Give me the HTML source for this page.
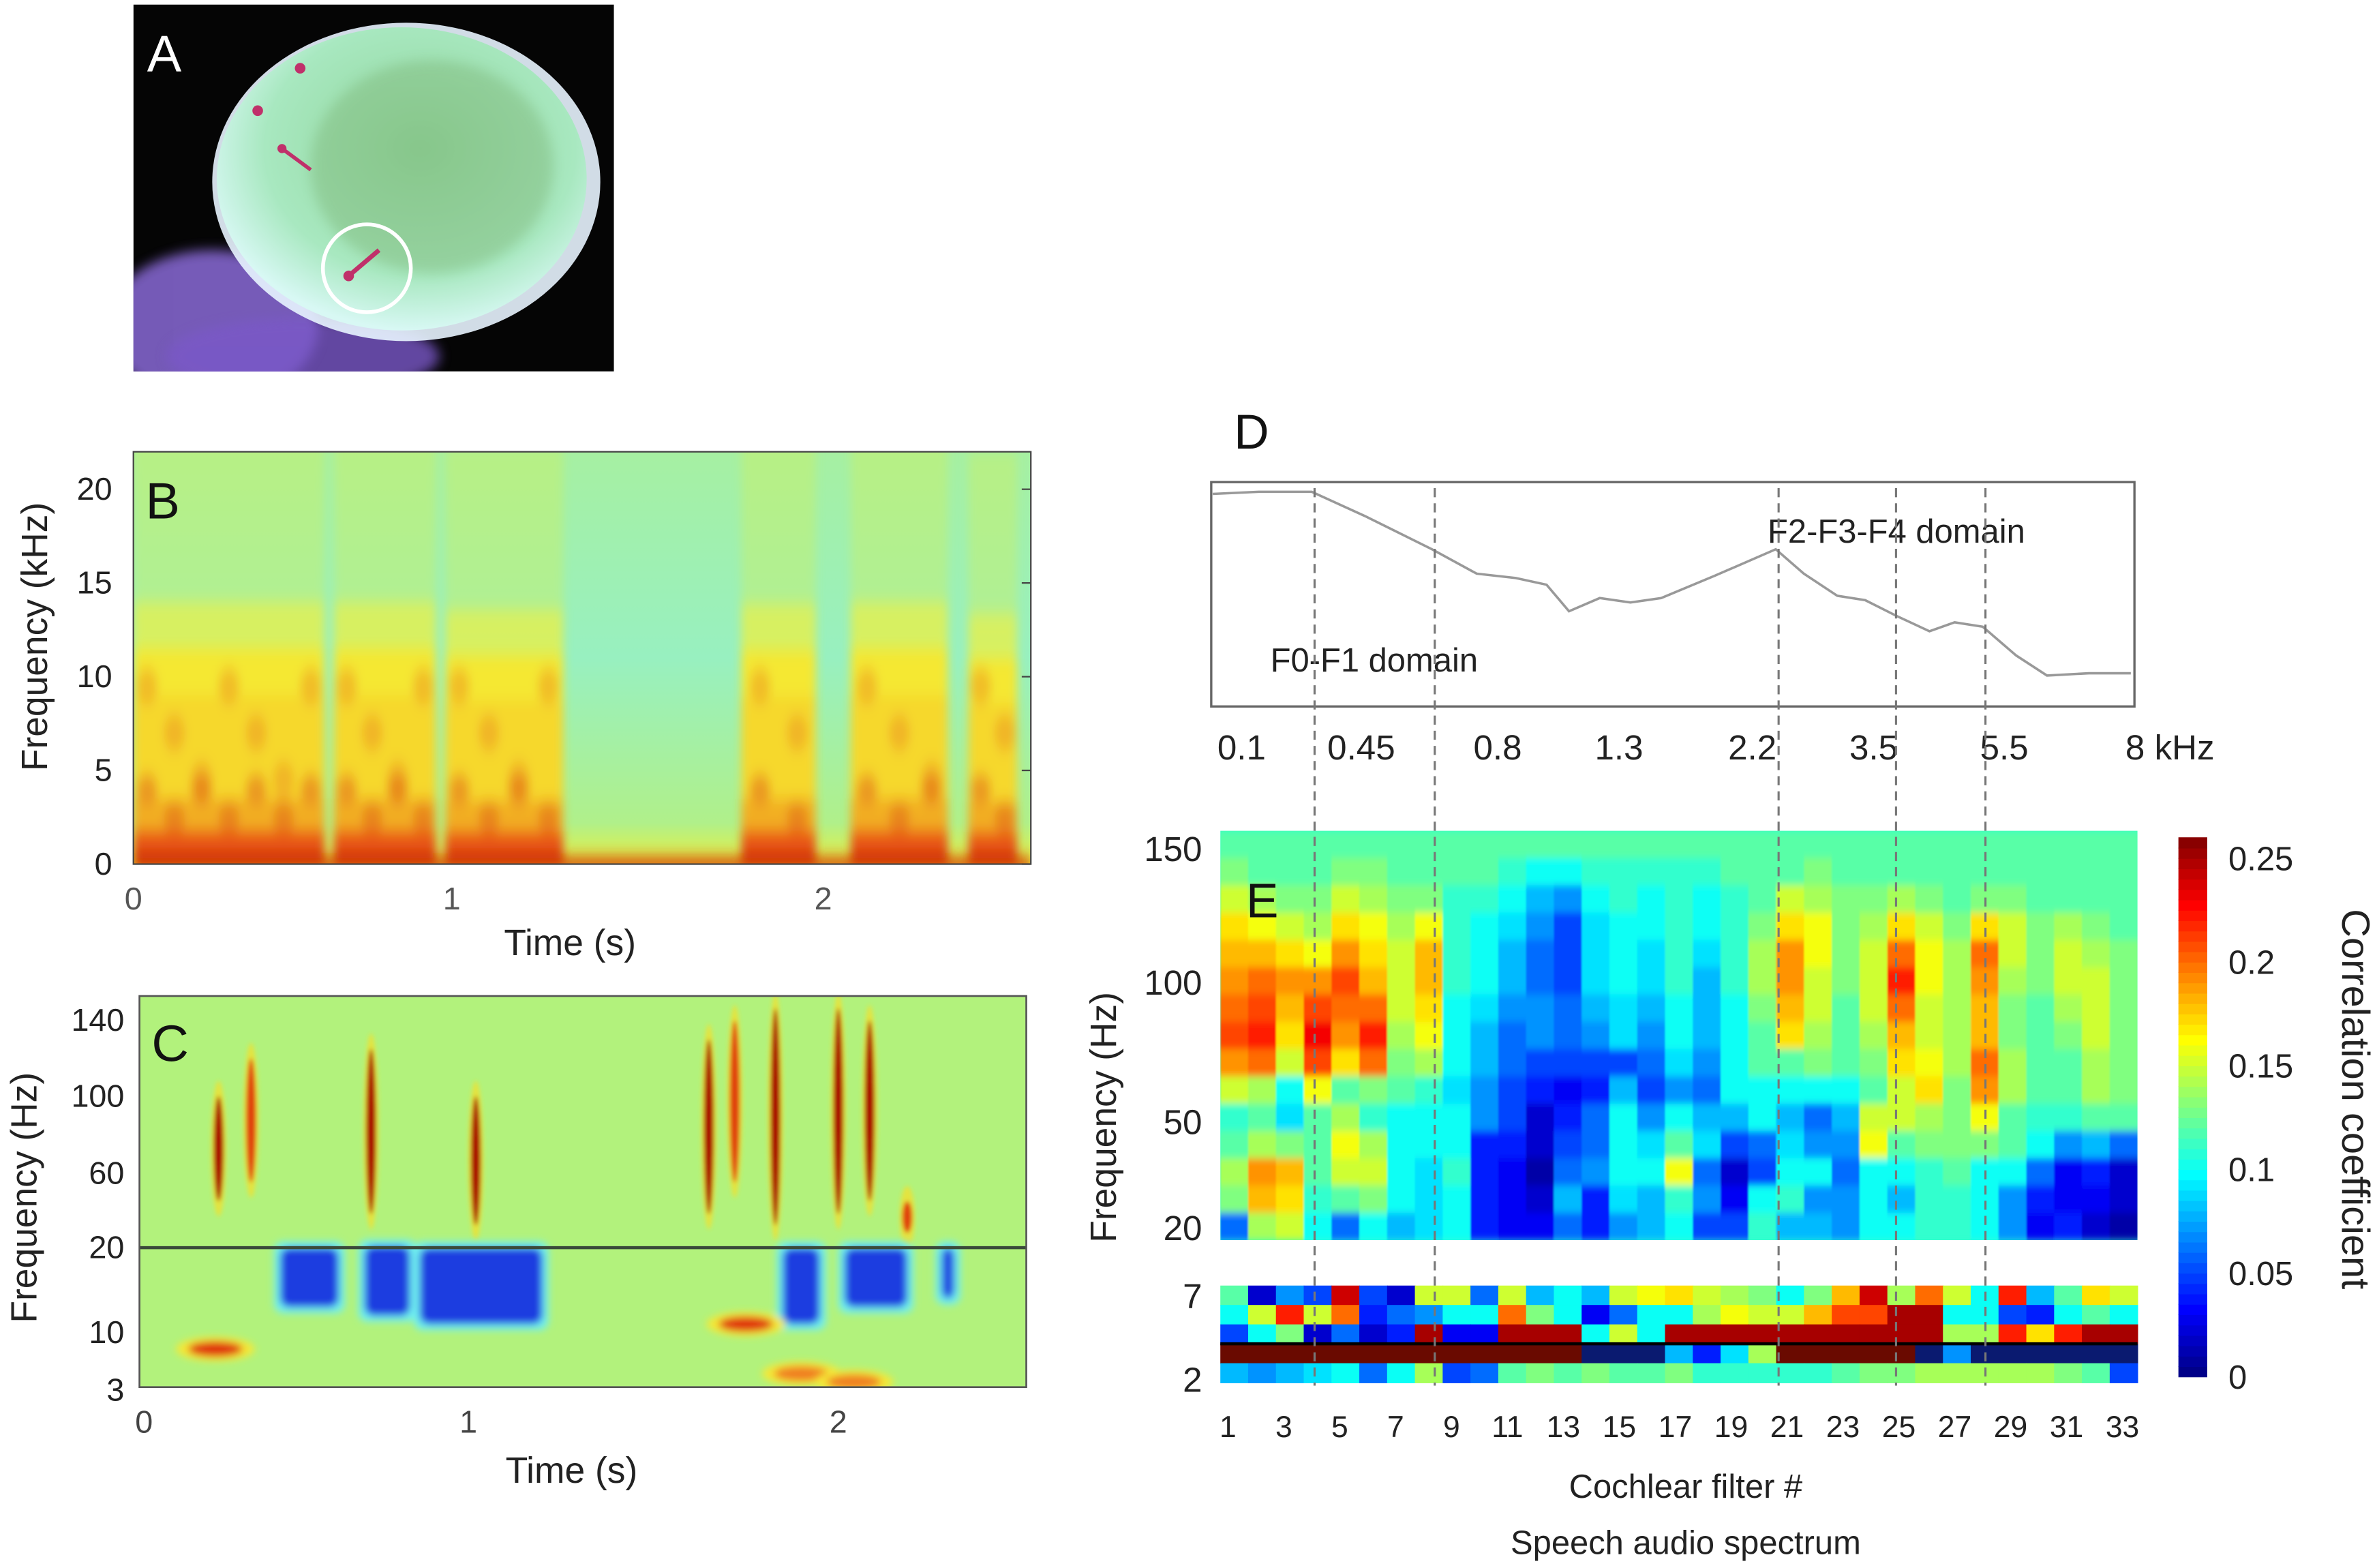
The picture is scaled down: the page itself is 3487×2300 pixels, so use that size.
<!DOCTYPE html>
<html><head><meta charset="utf-8"><style>
html,body{margin:0;padding:0;background:#fff;}
svg{display:block;font-family:"Liberation Sans",sans-serif;}
</style></head><body>
<svg id="fig" width="3487" height="2300" viewBox="0 0 1568 1034.3" preserveAspectRatio="none" xmlns="http://www.w3.org/2000/svg">
<defs>
<filter id="blur2" x="-20%" y="-20%" width="140%" height="140%"><feGaussianBlur stdDeviation="2.5"/></filter>
<filter id="blurB" x="-20%" y="-20%" width="140%" height="140%"><feGaussianBlur stdDeviation="3 5"/></filter>
<filter id="blur1" x="-50%" y="-20%" width="200%" height="140%"><feGaussianBlur stdDeviation="1.4"/></filter>
<filter id="blurE" x="0" y="0" width="100%" height="100%"><feGaussianBlur stdDeviation="0.6 2.5"/></filter>
<filter id="blur4"><feGaussianBlur stdDeviation="4"/></filter>
<linearGradient id="bgB" x1="0" y1="0" x2="0" y2="1"><stop offset="0" stop-color="#a6f0a2"/><stop offset="0.5" stop-color="#98f0c0"/><stop offset="0.9" stop-color="#b0f08a"/><stop offset="1" stop-color="#e8f040"/></linearGradient>
<radialGradient id="headGrad" cx="0.55" cy="0.4" r="0.6"><stop offset="0" stop-color="#8fd49a"/><stop offset="0.7" stop-color="#a8e8c0"/><stop offset="1" stop-color="#d8f8f4"/></radialGradient>
<clipPath id="clipA"><rect x="88" y="3" width="317" height="242"/></clipPath>
<clipPath id="clipB"><rect x="88" y="298" width="592" height="272"/></clipPath>
<clipPath id="clipC"><rect x="92" y="657" width="585" height="258"/></clipPath>
<clipPath id="clipEH"><rect x="805" y="548" width="605" height="270"/></clipPath>
</defs>

<g clip-path="url(#clipA)">
<rect x="88" y="3" width="317" height="242" fill="#050505"/>
<ellipse cx="140" cy="215" rx="70" ry="50" fill="#8a6ad8" opacity="0.85" filter="url(#blur4)"/>
<ellipse cx="200" cy="235" rx="90" ry="25" fill="#7a58c8" opacity="0.8" filter="url(#blur4)"/>
<ellipse cx="268" cy="120" rx="128" ry="105" fill="#e8f4ff" opacity="0.9"/>
<ellipse cx="265" cy="118" rx="122" ry="100" fill="url(#headGrad)"/>
<ellipse cx="285" cy="110" rx="80" ry="70" fill="#7fb87a" opacity="0.45" filter="url(#blur4)"/>
<circle cx="242" cy="177" r="29" fill="none" stroke="#fff" stroke-width="2.5"/>
<line x1="230" y1="182" x2="250" y2="165" stroke="#c0306a" stroke-width="3"/>
<circle cx="230" cy="182" r="3.5" fill="#c0306a"/>
<line x1="186" y1="98" x2="205" y2="112" stroke="#c0306a" stroke-width="2.5"/>
<circle cx="186" cy="98" r="3" fill="#c0306a"/>
<circle cx="170" cy="73" r="3.5" fill="#c0306a"/>
<circle cx="198" cy="45" r="3.5" fill="#c0306a"/>
</g>
<text x="97" y="47" font-size="34" fill="#fff">A</text>

<g id="panelB"></g>
<g id="panelC"></g>
<g id="panelD"></g>
<g id="panelE"></g>
</svg>
<script>
const bTimeTicks=[0,1,2];
const bFreqTicks=[0,5,10,15,20];
const bBursts=[[0.0,0.6,1.0],[0.63,0.95,1.0],[0.98,1.3,0.8],[1.78,1.98,0.95],[2.08,2.36,1.0],[2.42,2.56,0.7]];

const cTimeTicks=[0,1,2];
const cFreqTicks=[3,10,20,60,100,140];
const cRedStreaks=[[0.23,45,100,1],[0.33,55,120,0.6],[0.7,38,125,1],[1.02,32,100,1],[1.65,38,130,0.9],[1.72,55,140,0.6],[1.83,32,145,1],[2.0,38,145,0.9],[2.1,45,140,0.9],[2.22,28,45,0.6]];
const cBlueBlobs=[[0.42,0.6,13,20],[0.68,0.82,12,21],[0.85,1.2,11,20],[1.85,1.95,11,20],[2.02,2.22,13,20],[2.33,2.37,14,20]];
const cLowBlobs=[[0.22,8,1],[1.75,11,1],[1.9,5,0.8],[2.05,4,0.5]];

const dFilter=[0.46,2.1,4.0,5.9,8.3,9.9,11.3,12.4,13.2,14.3,15.4,16.5,18.4,20.6,21.6,22.8,23.8,24.9,26.1,27.0,28.0,29.2,30.3,31.8,33.3];
const dAmp=[0.96,0.97,0.97,0.86,0.71,0.60,0.58,0.55,0.43,0.49,0.47,0.49,0.59,0.71,0.60,0.50,0.48,0.41,0.34,0.38,0.36,0.23,0.14,0.15,0.15];
const dTickLabels=["0.1","0.45","0.8","1.3","2.2","3.5","5.5","8 kHz"];
const dTickFilters=[1.49,5.77,10.65,14.99,19.76,24.1,28.77,34.7];
const domainFilters=[4.1,8.4,20.7,24.9,28.1];

const eFilterLabels=[1,3,5,7,9,11,13,15,17,19,21,23,25,27,29,31,33];
const eHighTicks=[150,100,50,20];
const eLowTicks=[7,2];
const cbTicks=[0,0.05,0.1,0.15,0.2,0.25];
const eHigh=[
[0.12,0.13,0.15,0.17,0.18,0.19,0.2,0.21,0.19,0.15,0.11,0.12,0.14,0.13,0.06],
[0.12,0.12,0.14,0.16,0.18,0.2,0.21,0.22,0.2,0.14,0.12,0.14,0.19,0.18,0.14],
[0.12,0.12,0.13,0.15,0.17,0.19,0.18,0.17,0.15,0.1,0.09,0.13,0.18,0.17,0.15],
[0.12,0.12,0.13,0.14,0.16,0.19,0.21,0.23,0.21,0.16,0.12,0.12,0.12,0.11,0.1],
[0.12,0.13,0.15,0.17,0.19,0.21,0.2,0.19,0.17,0.12,0.14,0.16,0.15,0.12,0.06],
[0.12,0.13,0.14,0.16,0.17,0.18,0.2,0.22,0.2,0.13,0.11,0.14,0.15,0.13,0.1],
[0.12,0.12,0.13,0.14,0.15,0.15,0.15,0.14,0.13,0.12,0.1,0.1,0.1,0.1,0.08],
[0.12,0.12,0.13,0.16,0.18,0.18,0.17,0.16,0.14,0.11,0.1,0.1,0.09,0.09,0.09],
[0.12,0.12,0.11,0.11,0.11,0.11,0.1,0.1,0.1,0.09,0.1,0.1,0.11,0.1,0.1],
[0.12,0.12,0.11,0.1,0.1,0.1,0.09,0.08,0.08,0.07,0.07,0.04,0.04,0.04,0.04],
[0.12,0.11,0.1,0.09,0.08,0.08,0.07,0.06,0.06,0.05,0.05,0.04,0.03,0.03,0.03],
[0.12,0.1,0.08,0.07,0.06,0.06,0.07,0.07,0.05,0.04,0.02,0.02,0.01,0.02,0.03],
[0.12,0.1,0.07,0.05,0.05,0.05,0.06,0.06,0.05,0.03,0.04,0.05,0.06,0.08,0.06],
[0.12,0.11,0.1,0.09,0.09,0.09,0.08,0.07,0.05,0.04,0.06,0.06,0.07,0.04,0.04],
[0.12,0.11,0.11,0.1,0.1,0.1,0.09,0.09,0.05,0.08,0.1,0.1,0.1,0.09,0.07],
[0.12,0.11,0.1,0.1,0.09,0.09,0.08,0.07,0.06,0.05,0.07,0.09,0.1,0.08,0.08],
[0.12,0.11,0.11,0.11,0.11,0.11,0.1,0.1,0.09,0.07,0.1,0.12,0.16,0.11,0.1],
[0.12,0.11,0.1,0.1,0.09,0.08,0.08,0.08,0.07,0.06,0.08,0.09,0.06,0.07,0.05],
[0.12,0.12,0.11,0.11,0.11,0.11,0.1,0.1,0.1,0.1,0.08,0.05,0.02,0.03,0.05],
[0.12,0.12,0.12,0.13,0.14,0.14,0.13,0.12,0.12,0.1,0.1,0.06,0.05,0.1,0.11],
[0.12,0.12,0.15,0.17,0.19,0.19,0.18,0.17,0.12,0.1,0.08,0.09,0.1,0.11,0.08],
[0.12,0.13,0.14,0.16,0.16,0.15,0.15,0.14,0.13,0.1,0.06,0.07,0.1,0.07,0.08],
[0.12,0.12,0.13,0.13,0.13,0.13,0.12,0.12,0.12,0.1,0.08,0.07,0.06,0.07,0.07],
[0.12,0.12,0.13,0.14,0.15,0.15,0.15,0.14,0.13,0.12,0.15,0.16,0.1,0.1,0.1],
[0.12,0.12,0.14,0.17,0.2,0.22,0.2,0.18,0.17,0.15,0.15,0.12,0.1,0.08,0.1],
[0.12,0.12,0.13,0.15,0.16,0.16,0.15,0.15,0.16,0.17,0.14,0.13,0.11,0.11,0.11],
[0.12,0.12,0.12,0.13,0.14,0.14,0.14,0.14,0.14,0.13,0.13,0.13,0.12,0.11,0.11],
[0.12,0.12,0.13,0.17,0.2,0.19,0.18,0.18,0.2,0.19,0.16,0.13,0.1,0.1,0.1],
[0.12,0.12,0.13,0.15,0.15,0.14,0.13,0.13,0.14,0.14,0.12,0.12,0.1,0.07,0.07],
[0.12,0.12,0.12,0.13,0.13,0.13,0.12,0.12,0.12,0.12,0.11,0.1,0.06,0.04,0.03],
[0.12,0.12,0.12,0.14,0.15,0.15,0.14,0.13,0.12,0.12,0.11,0.07,0.03,0.03,0.04],
[0.12,0.12,0.12,0.13,0.14,0.15,0.15,0.15,0.14,0.14,0.12,0.08,0.04,0.03,0.02],
[0.12,0.12,0.12,0.12,0.13,0.13,0.13,0.13,0.13,0.13,0.12,0.06,0.02,0.02,0.01]];
const eLowRow1=[0.12,0.02,0.07,0.05,0.24,0.05,0.02,0.15,0.15,0.06,0.15,0.08,0.1,0.08,0.15,0.16,0.17,0.15,0.14,0.13,0.1,0.13,0.18,0.24,0.14,0.2,0.15,0.1,0.22,0.08,0.12,0.17,0.15];
const eLowRow2=[0.1,0.15,0.22,0.15,0.2,0.04,0.06,0.07,0.1,0.1,0.2,0.13,0.1,0.03,0.06,0.1,0.1,0.14,0.16,0.15,0.15,0.18,0.21,0.21,0.25,0.25,0.1,0.1,0.05,0.04,0.1,0.12,0.1];
const eLowRow3=[0.05,0.1,0.13,0.02,0.06,0.02,0.04,0.25,0.03,0.03,0.25,0.25,0.25,0.1,0.15,0.1,0.25,0.25,0.25,0.25,0.25,0.25,0.25,0.25,0.25,0.25,0.14,0.14,0.22,0.17,0.22,0.25,0.25];
const eLowRow4=[0.26,0.26,0.26,0.26,0.26,0.26,0.26,0.26,0.26,0.26,0.26,0.26,0.26,0.01,0.01,0.01,0.08,0.04,0.09,0.14,0.26,0.26,0.26,0.26,0.23,0.01,0.07,0.01,0.01,0.01,0.01,0.01,0.01];
const eLowRow5=[0.08,0.07,0.08,0.09,0.1,0.06,0.1,0.14,0.05,0.06,0.12,0.13,0.12,0.13,0.12,0.12,0.13,0.11,0.11,0.11,0.11,0.11,0.12,0.13,0.13,0.14,0.14,0.14,0.14,0.14,0.13,0.12,0.05];

const NS="http://www.w3.org/2000/svg";
function mk(parent,tag,attrs,txt){const e=document.createElementNS(NS,tag);for(const k in attrs)e.setAttribute(k,attrs[k]);if(txt!==undefined)e.textContent=txt;parent.appendChild(e);return e;}
function clamp(v){return Math.max(0,Math.min(1,v));}
function jet(v){const t=clamp(v/0.26);const r=clamp(1.5-Math.abs(4*t-3)),g=clamp(1.5-Math.abs(4*t-2)),b=clamp(1.5-Math.abs(4*t-1));
 return `rgb(${Math.round(r*255)},${Math.round(g*255)},${Math.round(b*255)})`;}
function piece(dom,rng){return v=>{for(let i=0;i<dom.length-1;i++){if(v<=dom[i+1]||i==dom.length-2){const f=(v-dom[i])/(dom[i+1]-dom[i]);return rng[i]+f*(rng[i+1]-rng[i]);}}};}
const TS=21;

// Panel B
(function(){
const g=document.getElementById('panelB');
const xB=piece([0,1,2,2.6],[88,298,543,680]);
const yB=piece([0,22],[570,298]);
const plot=mk(g,'g',{'clip-path':'url(#clipB)'});
let bg=mk(plot,'rect',{x:88,y:298,width:592,height:272,fill:'url(#bgB)'});


const bl=mk(plot,'g',{filter:'url(#blurB)'});
const layers=[[0,23,'#d8f050',0.35],[0,14,'#f0f040',0.6],[0,11.5,'#f8e830',0.9],[0,9,'#f8c828',0.5],[0,3.5,'#f0a020',0.75],[0,1.8,'#e84810',0.85],[0,0.6,'#c82000',1]];
bBursts.forEach((b,i)=>{
 layers.forEach(L=>{
  const top=L[1]*(0.85+0.15*b[2]);
  const r=mk(bl,'rect',{x:xB(b[0]),y:yB(top),width:xB(b[1])-xB(b[0]),height:yB(L[0])-yB(top),fill:L[2],opacity:L[3]});
  
  
 });
 const n=Math.max(2,Math.round((b[1]-b[0])*12));
 for(let k=0;k<n;k++){const tx=b[0]+(b[1]-b[0])*(k+0.5)/n;
  mk(bl,'ellipse',{cx:xB(tx),cy:yB(9.5-(k%3)*2.5),rx:7,ry:12,fill:'#ec9a20',opacity:0.55});
  mk(bl,'ellipse',{cx:xB(tx),cy:yB(4-(k%2)*1.5),rx:7,ry:10,fill:'#e06018',opacity:0.5});}
});
mk(bl,'rect',{x:88,y:yB(0.3),width:592,height:yB(0)-yB(0.3)+4,fill:'#d02800'});
mk(g,'rect',{x:88,y:298,width:592,height:272,fill:'none',stroke:'#444','stroke-width':1});
bFreqTicks.forEach(v=>{const y=yB(v);
 let t=mk(g,'text',{x:74,y:y+7,'font-size':TS,'text-anchor':'end',fill:'#222'},v);
 
 
 mk(g,'line',{x1:674,x2:680,y1:y,y2:y,stroke:'#444'});});
bTimeTicks.forEach(v=>{const x=xB(v);
 let t=mk(g,'text',{x:x,y:600,'font-size':TS,'text-anchor':'middle',fill:'#555'},v);
 
 });
let xt=mk(g,'text',{x:376,y:630,'font-size':24,'text-anchor':'middle',fill:'#222'},'Time (s)');

let yt=mk(g,'text',{x:0,y:0,'font-size':24,'text-anchor':'middle',fill:'#222',transform:'translate(31,420) rotate(-90)'},'Frequency (kHz)');

let lb=mk(g,'text',{x:96,y:342,'font-size':34,fill:'#111'},'B');

})();

// Panel C
(function(){
const g=document.getElementById('panelC');
const xC=piece([0,1,2,2.6],[95,309,553,677]);
const yC=piece([3,10,20,60,100,140,150],[917,879,823,774,723,673,657]);
const plot=mk(g,'g',{'clip-path':'url(#clipC)'});
let bg=mk(plot,'rect',{x:92,y:657,width:585,height:258,fill:'#b2f27c'});

const bl=mk(plot,'g',{filter:'url(#blur1)'});
cRedStreaks.forEach((s,i)=>{const x=xC(s[0]);
 mk(bl,'ellipse',{cx:x,cy:(yC(s[1])+yC(s[2]))/2,rx:5,ry:(yC(s[1])-yC(s[2]))/2+10,fill:'#f0e030',opacity:0.8});
 const e=mk(bl,'ellipse',{cx:x,cy:(yC(s[1])+yC(s[2]))/2,rx:3.2,ry:(yC(s[1])-yC(s[2]))/2,fill:s[3]>0.8?'#a80000':'#e04010'});
 });
const bb=mk(plot,'g',{filter:'url(#blur2)'});
cBlueBlobs.forEach((b,i)=>{
 mk(bb,'rect',{x:xC(b[0])-4,y:yC(b[3])-4,width:xC(b[1])-xC(b[0])+8,height:yC(b[2])-yC(b[3])+8,fill:'#70f0f0',rx:6});
 const r=mk(bb,'rect',{x:xC(b[0]),y:yC(b[3]),width:xC(b[1])-xC(b[0]),height:yC(b[2])-yC(b[3]),fill:'#1a3de0',rx:6});
 });
cLowBlobs.forEach((b,i)=>{
 mk(bb,'ellipse',{cx:xC(b[0]),cy:yC(b[1]),rx:26,ry:8,fill:'#f4e838'});
 const e=mk(bb,'ellipse',{cx:xC(b[0]),cy:yC(b[1]),rx:18,ry:5,fill:b[2]>0.9?'#e03010':'#f08020'});
 });
let hl=mk(g,'line',{x1:92,x2:677,y1:yC(20),y2:yC(20),stroke:'#3a4a3a','stroke-width':2});

mk(g,'rect',{x:92,y:657,width:585,height:258,fill:'none',stroke:'#555','stroke-width':1.2});
cFreqTicks.forEach(v=>{let t=mk(g,'text',{x:82,y:yC(v)+7,'font-size':TS,'text-anchor':'end',fill:'#222'},v);
 });
cTimeTicks.forEach(v=>{let t=mk(g,'text',{x:xC(v),y:945,'font-size':TS,'text-anchor':'middle',fill:'#444'},v);
 });
let xt=mk(g,'text',{x:377,y:978,'font-size':24,'text-anchor':'middle',fill:'#222'},'Time (s)');

let yt=mk(g,'text',{x:0,y:0,'font-size':24,'text-anchor':'middle',fill:'#222',transform:'translate(24,790) rotate(-90)'},'Frequency (Hz)');

let lb=mk(g,'text',{x:100,y:700,'font-size':34,fill:'#111'},'C');

})();

const xF=i=>810+(i-1)*18.44;

// Panel D
(function(){
const g=document.getElementById('panelD');
const yD=a=>466-a*146;
let fr=mk(g,'rect',{x:799,y:318,width:609,height:148,fill:'#fff',stroke:'#666','stroke-width':1.5});

let pts=dFilter.map((f,i)=>xF(f).toFixed(1)+','+yD(dAmp[i]).toFixed(1)).join(' ');
let pl=mk(g,'polyline',{points:pts,fill:'none',stroke:'#999','stroke-width':1.6});

dTickLabels.forEach((l,i)=>{let t=mk(g,'text',{x:xF(dTickFilters[i]),y:501,'font-size':23,'text-anchor':'middle',fill:'#222'},l);
 });
let a1=mk(g,'text',{x:1166,y:358,'font-size':22,fill:'#222'},'F2-F3-F4 domain');

let a2=mk(g,'text',{x:838,y:443,'font-size':22,fill:'#222'},'F0-F1 domain');

let lb=mk(g,'text',{x:814,y:296,'font-size':32,fill:'#111'},'D');

})();

// Panel E
(function(){
const g=document.getElementById('panelE');
const X0=805,X1=1410,cw=(X1-X0)/33;
const HY0=548,HY1=818,LY0=848,LY1=912;
const nR=eHigh[0].length, rh=(HY1-HY0)/nR;
const hc=mk(g,'g',{'clip-path':'url(#clipEH)'});
mk(hc,'rect',{x:X0,y:HY0,width:X1-X0,height:HY1-HY0,fill:jet(0.11)});
const hg=mk(hc,'g',{filter:'url(#blurE)'});
eHigh.forEach((col,c)=>col.forEach((v,r)=>{
 const rc=mk(hg,'rect',{x:(X0+c*cw).toFixed(2),y:(HY0+r*rh).toFixed(2),width:(cw+0.4).toFixed(2),height:(rh+0.4).toFixed(2),fill:jet(v)});
 
 
}));
const low=[eLowRow1,eLowRow2,eLowRow3,eLowRow4,eLowRow5];
const lh=(LY1-LY0)/5;
low.forEach((row,r)=>row.forEach((v,c)=>{
 const col=r===3?(v>0.2?'#6a0a00':(v<0.03?'#0a1a70':jet(v))):jet(v);
 const rc=mk(g,'rect',{x:(X0+c*cw).toFixed(2),y:(LY0+r*lh).toFixed(2),width:(cw+0.4).toFixed(2),height:(lh+0.4).toFixed(2),fill:col});
 
 
}));
mk(g,'line',{x1:X0,x2:X1,y1:LY0+3*lh,y2:LY0+3*lh,stroke:'#000','stroke-width':2});
domainFilters.forEach(f=>{const l=mk(g,'line',{x1:xF(f),x2:xF(f),y1:322,y2:LY1+2,stroke:'#777','stroke-width':1.4,'stroke-dasharray':'6,4'});
 });
const yH=piece([20,50,100,150],[810,740,648,560]);
eHighTicks.forEach(v=>{let t=mk(g,'text',{x:793,y:yH(v)+8,'font-size':23,'text-anchor':'end',fill:'#222'},v);
 });
const yL=piece([2,7],[910,855]);
eLowTicks.forEach(v=>{let t=mk(g,'text',{x:793,y:yL(v)+8,'font-size':23,'text-anchor':'end',fill:'#222'},v);
 });
eFilterLabels.forEach(v=>{let t=mk(g,'text',{x:xF(v),y:948,'font-size':20,'text-anchor':'middle',fill:'#222'},v);
 });
let xt1=mk(g,'text',{x:1112,y:988,'font-size':22,'text-anchor':'middle',fill:'#222'},'Cochlear filter #');

let xt2=mk(g,'text',{x:1112,y:1025,'font-size':22,'text-anchor':'middle',fill:'#222'},'Speech audio spectrum');

let yt=mk(g,'text',{x:0,y:0,'font-size':24,'text-anchor':'middle',fill:'#222',transform:'translate(736,737) rotate(-90)'},'Frequency (Hz)');

let lb=mk(g,'text',{x:822,y:605,'font-size':32,fill:'#111'},'E');

const cbY=v=>908-v*(908-566)/0.25;
const N=52;
for(let i=0;i<N;i++){const v0=0.26*i/N,v1=0.26*(i+1)/N;
 const r=mk(g,'rect',{x:1437,y:cbY(v1).toFixed(2),width:19,height:(cbY(v0)-cbY(v1)+0.5).toFixed(2),fill:jet((v0+v1)/2)});
 }
cbTicks.forEach(v=>{let t=mk(g,'text',{x:1470,y:cbY(v)+8,'font-size':22,fill:'#222'},v);
 });
let ct=mk(g,'text',{x:0,y:0,'font-size':26,'text-anchor':'middle',fill:'#222',transform:'translate(1545,725) rotate(90)'},'Correlation coefficient');

})();
</script>
</body></html>
